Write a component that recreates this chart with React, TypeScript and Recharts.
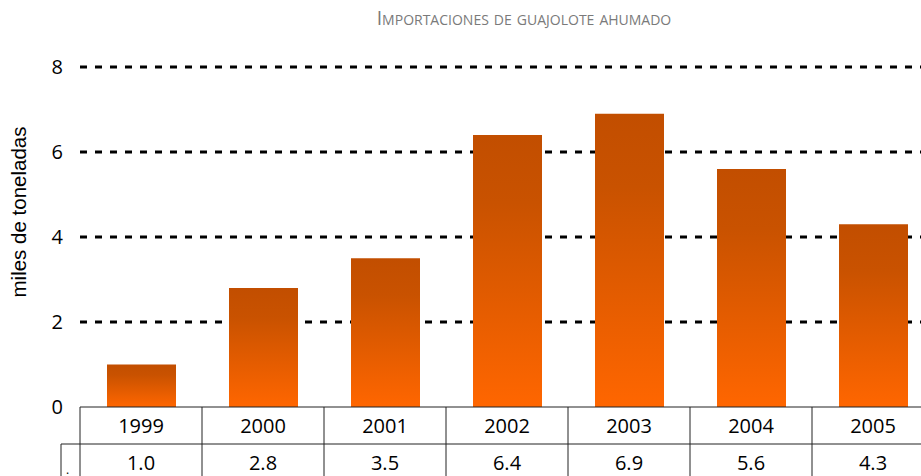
import { BarChart, Bar, XAxis, YAxis, CartesianGrid } from 'recharts';

const years = ['1999', '2000', '2001', '2002', '2003', '2004', '2005'];
const imports = [1.0, 2.8, 3.5, 6.4, 6.9, 5.6, 4.3];
const yTicks = [0, 2, 4, 6, 8];

const data = years.map((year, i) => ({ year, value: imports[i] }));

const FONT = '"Open Sans", sans-serif';
const CELL = 122;

// table cell under each category: year on top row, value on second row
function TableTick(props: any) {
  const { x, index, payload } = props;
  const left = x - CELL / 2;
  const right = x + CELL / 2;
  const top = 407;
  return (
    <g>
      <line x1={right} y1={top} x2={right} y2={top + 80} stroke="#222" strokeWidth={1} />
      <line x1={left} y1={top + 37} x2={right} y2={top + 37} stroke="#222" strokeWidth={1} />
      {index === 0 && (
        <>
          <line x1={left} y1={top} x2={left} y2={top + 80} stroke="#222" strokeWidth={1} />
          <line x1={left - 19} y1={top + 37} x2={left} y2={top + 37} stroke="#222" strokeWidth={1} />
          <line x1={left - 19} y1={top + 37} x2={left - 19} y2={top + 80} stroke="#222" strokeWidth={1} />
          <text x={left - 14} y={top + 67} fontFamily={FONT} fontSize={12} fill="#000">.</text>
        </>
      )}
      <text x={x} y={top + 26} textAnchor="middle" fontFamily={FONT} fontSize={20} fill="#000">
        {payload.value}
      </text>
      <text x={x} y={top + 63} textAnchor="middle" fontFamily={FONT} fontSize={20} fill="#000">
        {imports[index].toFixed(1)}
      </text>
    </g>
  );
}

function YTick(props: any) {
  const { y, payload } = props;
  return (
    <text x={63} y={y + 7} textAnchor="end" fontFamily={FONT} fontSize={20} fill="#000">
      {payload.value}
    </text>
  );
}

export default function App() {
  return (
    <div style={{ position: 'absolute', left: 0, top: 0, width: 921, height: 476, overflow: 'hidden', background: '#fff' }}>
      <div
        style={{
          position: 'absolute',
          left: 0,
          width: 1048,
          top: 3,
          textAlign: 'center',
          fontFamily: FONT,
          fontSize: 19.3,
          lineHeight: '30px',
          fontVariant: 'small-caps',
          color: '#7a7a7a',
        }}
      >
        Importaciones de guajolote ahumado
      </div>
      <div
        style={{
          position: 'absolute',
          left: 19,
          top: 212,
          transform: 'translate(-50%, -50%) rotate(-90deg)',
          fontFamily: '"Liberation Sans", Arial, sans-serif',
          fontSize: 20.5,
          whiteSpace: 'nowrap',
          color: '#000',
        }}
      >
        miles de toneladas
      </div>
      <BarChart
        width={940}
        height={476}
        data={data}
        margin={{ top: 67, right: 6, bottom: 0, left: 0 }}
        barSize={69}
      >
        <defs>
          <linearGradient id="barFill" x1="0" y1="0" x2="0" y2="1">
            <stop offset="0%" stopColor="#C24E00" />
            <stop offset="25%" stopColor="#C95200" />
            <stop offset="100%" stopColor="#FF6600" />
          </linearGradient>
        </defs>
        <CartesianGrid
          vertical={false}
          horizontalValues={[2, 4, 6, 8]}
          stroke="#000"
          strokeWidth={3}
          strokeDasharray="7 8"
        />
        <XAxis
          dataKey="year"
          axisLine={{ stroke: '#222', strokeWidth: 1 }}
          tickLine={false}
          tick={<TableTick />}
          tickMargin={0}
          interval={0}
          height={69}
        />
        <YAxis
          domain={[0, 8]}
          ticks={yTicks}
          width={80}
          axisLine={false}
          tickLine={false}
          tick={<YTick />}
        />
        <Bar dataKey="value" fill="url(#barFill)" isAnimationActive={false} />
      </BarChart>
    </div>
  );
}
